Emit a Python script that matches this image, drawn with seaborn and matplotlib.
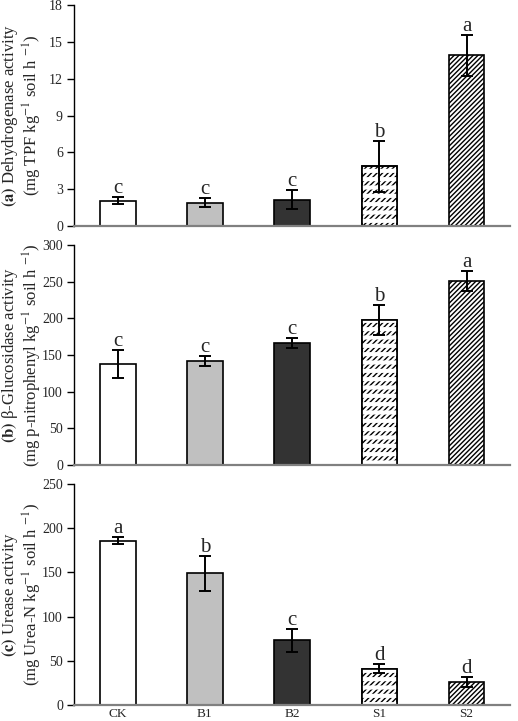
import numpy as np
import pandas as pd
import matplotlib
matplotlib.use("Agg")
import matplotlib.pyplot as plt
from matplotlib.patches import Rectangle
import seaborn as sns

categories = ["CK", "B1", "B2", "S1", "S2"]
dehydrogenase = [2.05, 1.9, 2.15, 4.85, 13.9]
dehydrogenase_err = [0.3, 0.35, 0.75, 2.05, 1.7]
dehydrogenase_sig = ["c", "c", "c", "b", "a"]
glucosidase = [138, 142, 166, 198, 251]
glucosidase_err = [19, 7, 7, 20, 14]
glucosidase_sig = ["c", "c", "c", "b", "a"]
urease = [186, 149, 73, 41, 26]
urease_err = [4, 20, 13, 5, 6]
urease_sig = ["a", "b", "c", "d", "d"]

sns.set_style("white")
plt.rcParams["font.family"] = ["Liberation Serif", "DejaVu Serif"]
plt.rcParams["mathtext.fontset"] = "stix"
plt.rcParams["hatch.linewidth"] = 1.0

fills = ["#ffffff", "#c0c0c0", "#333333", "#ffffff", "#ffffff"]
hatches = [None, None, None, "//////", "///////"]

panels = [
    (dehydrogenase, dehydrogenase_err, dehydrogenase_sig, (0, 18), np.arange(0, 19, 3),
     r"$\mathbf{(a)}$ Dehydrogenase activity" + "\n" + r"(mg TPF kg$^{-1}$ soil h $^{-1}$)",
     [0.143, 0.6866, 0.842, 0.3064]),
    (glucosidase, glucosidase_err, glucosidase_sig, (0, 300), np.arange(0, 301, 50),
     r"$\mathbf{(b)}$ β-Glucosidase activity" + "\n" + r"(mg p-nitrophenyl kg$^{-1}$ soil h $^{-1}$)",
     [0.143, 0.355, 0.842, 0.305]),
    (urease, urease_err, urease_sig, (0, 250), np.arange(0, 251, 50),
     r"$\mathbf{(c)}$ Urease activity" + "\n" + r"(mg Urea-N kg$^{-1}$ soil h $^{-1}$)",
     [0.143, 0.0222, 0.842, 0.3065]),
]

fig = plt.figure(figsize=(5.18, 7.21), dpi=100)

for i, (vals, errs, sig, ylim, yticks, ylabel, rect) in enumerate(panels):
    ax = fig.add_axes(rect)
    df = pd.DataFrame({"cat": categories, "val": vals})
    sns.barplot(data=df, x="cat", y="val", hue="cat", palette=fills, legend=False,
                width=0.41, errorbar=None, ax=ax, edgecolor="black", linewidth=1.2, saturation=1)
    patches = list(ax.patches)
    for p, h in zip(patches, hatches):
        if h:
            p.set_hatch(h)
            p.set_edgecolor("black")
    # S1 pattern: white horizontal stripes over dense diagonal hatch
    p1 = patches[3]
    ov = Rectangle((p1.get_x(), p1.get_y()), p1.get_width(), p1.get_height(),
                   facecolor="none", edgecolor="white", hatch="--", linewidth=0, zorder=p1.get_zorder() + 0.1)
    try:
        ov.set_hatch_linewidth(3.0)
    except Exception:
        pass
    ax.add_patch(ov)
    ol = Rectangle((p1.get_x(), p1.get_y()), p1.get_width(), p1.get_height(),
                   fill=False, edgecolor="black", linewidth=1.2, zorder=p1.get_zorder() + 0.2)
    ax.add_patch(ol)

    x = np.arange(len(categories))
    ax.errorbar(x, vals, yerr=errs, fmt="none", ecolor="black", elinewidth=1.4,
                capsize=4, capthick=1.4, zorder=5)
    rng = ylim[1] - ylim[0]
    for xi, v, e, s in zip(x, vals, errs, sig):
        ax.text(xi, v + e - 0.005 * rng, s, ha="center", va="bottom", fontsize=15, zorder=6)

    ax.set_xlim(-0.5, 4.5)
    ax.set_ylim(*ylim)
    ax.set_yticks(yticks)
    ax.set_xlabel("")
    ax.set_ylabel(ylabel, fontsize=12, linespacing=1.0)
    ax.yaxis.set_label_coords(-0.07, 0.5)
    for s in ["top", "right"]:
        ax.spines[s].set_visible(False)
    ax.spines["left"].set_color("black")
    ax.spines["left"].set_linewidth(1.0)
    ax.spines["bottom"].set_color("#808080")
    ax.spines["bottom"].set_linewidth(1.6)
    ax.tick_params(axis="y", direction="out", length=5, width=1, color="black",
                   labelsize=10, left=True, pad=3)
    ax.tick_params(axis="x", length=0, labelsize=9.5, pad=2)
    if i < 2:
        ax.set_xticklabels([])

fig.savefig("out.png", dpi=100)
